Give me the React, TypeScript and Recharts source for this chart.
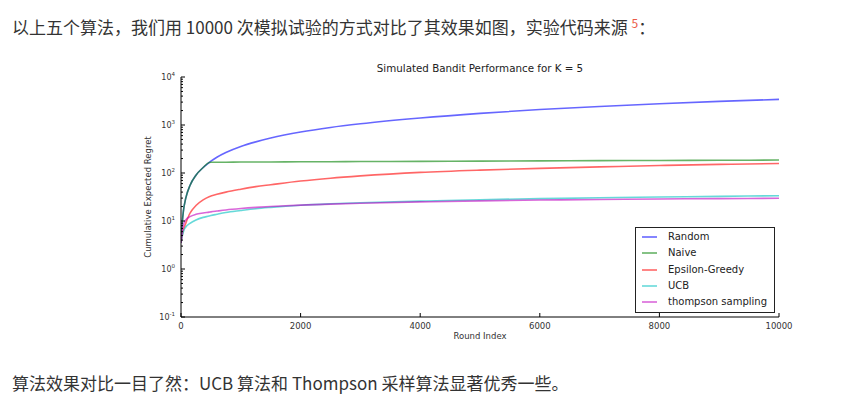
import { LineChart, Line, XAxis, YAxis, Legend } from "recharts";

const rounds = [0, 20, 40, 80, 150, 250, 370, 470, 500, 600, 750, 1000, 1250, 1500, 2000, 2500, 3000, 4000, 5000, 6000, 7000, 8000, 9000, 10000];
const randomRegret = [4, 9, 16, 30, 55, 90, 130, 165, 176, 213, 267, 357, 445, 535, 715, 890, 1060, 1400, 1750, 2100, 2430, 2770, 3100, 3420];
const naiveRegret = [4, 9, 16, 30, 55, 90, 130, 165, 167, 167.5, 168, 169, 169.5, 170, 171, 172, 173, 175, 177, 179, 181, 182, 184, 186];
const epsilonRegret = [3.5, 5, 6.5, 9, 14.5, 21, 27.5, 32, 33, 36, 40, 46, 52, 57, 68, 78, 87, 103, 115, 125, 134, 143, 151, 158];
const ucbRegret = [3.5, 4.8, 6, 7.5, 8.9, 10.5, 11.9, 12.7, 13, 13.8, 15, 16.5, 18, 19.2, 21.3, 22.8, 24, 26, 27.8, 29.2, 30.5, 31.6, 32.6, 33.6];
const thompsonRegret = [3.5, 6, 8.3, 10.5, 12.3, 13.8, 14.7, 15.3, 15.5, 16.1, 17, 18.2, 19.2, 20, 21.4, 22.5, 23.5, 25, 26.3, 27.3, 28.1, 28.8, 29.3, 29.7];

const xTicks = [0, 2000, 4000, 6000, 8000, 10000];
const yTicks = [0.1, 1, 10, 100, 1000, 10000];
const minorSteps = [2, 3, 4, 5, 6, 7, 8, 9];
const yAllTicks = yTicks.flatMap((d, i) =>
  i < yTicks.length - 1 ? [d, ...minorSteps.map((m) => Number((d * m).toPrecision(2)))] : [d]
);

const series = [
  { key: "random", name: "Random", color: "#0000ff" },
  { key: "naive", name: "Naive", color: "#008000" },
  { key: "epsilon", name: "Epsilon-Greedy", color: "#ff0000" },
  { key: "ucb", name: "UCB", color: "#00bfbf" },
  { key: "thompson", name: "thompson sampling", color: "#bf00bf" },
];

const data = rounds.map((r, i) => ({
  round: r,
  random: randomRegret[i],
  naive: naiveRegret[i],
  epsilon: epsilonRegret[i],
  ucb: ucbRegret[i],
  thompson: thompsonRegret[i],
}));

const mplFont = '"DejaVu Sans", sans-serif';
const cjkFont = '"Noto Sans CJK SC", sans-serif';

const isMajor = (v: number) => Math.abs(Math.log10(v) - Math.round(Math.log10(v))) < 1e-6;

function YTick({ x, y, payload, side }: any) {
  const v = payload.value;
  const major = isMajor(v);
  const len = major ? 4 : 2;
  const dir = side === "left" ? 1 : -1;
  return (
    <g>
      <line x1={x} x2={x + dir * len} y1={y} y2={y} stroke="#000" strokeWidth={1} />
      {side === "left" && major && (
        <text x={x - 6} y={y + 3} textAnchor="end" fontSize={8} fill="#333" fontFamily={mplFont}>
          10
          <tspan dy={-4} fontSize={5.5}>
            {Math.round(Math.log10(v))}
          </tspan>
        </text>
      )}
    </g>
  );
}

function XTick({ x, y, payload, side }: any) {
  const bottom = side === "bottom";
  return (
    <g>
      <line x1={x} x2={x} y1={y} y2={bottom ? y - 4 : y + 4} stroke="#000" strokeWidth={1} />
      {bottom && (
        <text x={x} y={y + 12} textAnchor="middle" fontSize={8.5} fill="#333" fontFamily={mplFont}>
          {payload.value}
        </text>
      )}
    </g>
  );
}

function LegendBox({ payload }: any) {
  const order = series.map((s) => s.name);
  const items = [...(payload || [])].sort((a: any, b: any) => order.indexOf(a.value) - order.indexOf(b.value));
  return (
    <div
      style={{
        width: 140,
        height: 86,
        boxSizing: "border-box",
        border: "1px solid #222",
        background: "#fff",
        paddingTop: 1,
      }}
    >
      {items.map((p: any) => (
        <div key={p.value} style={{ display: "flex", alignItems: "center", height: 16.3 }}>
          <svg width={22} height={4} style={{ marginLeft: 6 }}>
            <line x1={0} x2={15} y1={2} y2={2} stroke={p.color} strokeOpacity={0.6} strokeWidth={1.6} />
          </svg>
          <span style={{ marginLeft: 4, fontSize: 10, fontFamily: mplFont, color: "#222", lineHeight: "12px" }}>
            {p.value}
          </span>
        </div>
      ))}
    </div>
  );
}

export default function App() {
  return (
    <div style={{ position: "relative", width: 861, height: 405, background: "#fff", overflow: "hidden" }}>
      <style>{"body{margin:0}"}</style>
      <div
        style={{
          position: "absolute",
          left: 12,
          top: 17,
          fontSize: 17,
          lineHeight: "20px",
          fontFamily: cjkFont,
          color: "#333",
          whiteSpace: "nowrap",
        }}
      >
        以上五个算法，我们用 10000 次模拟试验的方式对比了其效果如图，实验代码来源{" "}
        <span style={{ color: "#eb5a46", fontSize: 12, position: "relative", top: -6 }}>5</span>：
      </div>

      <div style={{ position: "absolute", left: 0, top: 0 }}>
        <LineChart width={861} height={405} data={data} margin={{ top: 77, right: 82, bottom: 68, left: 141 }}>
          <XAxis
            dataKey="round"
            type="number"
            domain={[0, 10000]}
            allowDataOverflow
            ticks={xTicks}
            interval={0}
            height={20}
            tickSize={0}
            tickMargin={0}
            tickLine={false}
            axisLine={{ stroke: "#000" }}
            tick={(p: any) => <XTick {...p} side="bottom" />}
          />
          <XAxis
            xAxisId="top"
            orientation="top"
            dataKey="round"
            type="number"
            domain={[0, 10000]}
            allowDataOverflow
            ticks={xTicks}
            interval={0}
            height={0}
            tickSize={0}
            tickMargin={0}
            tickLine={false}
            axisLine={{ stroke: "#000" }}
            tick={(p: any) => <XTick {...p} side="top" />}
          />
          <YAxis
            type="number"
            scale="log"
            domain={[0.1, 10000]}
            allowDataOverflow
            ticks={yAllTicks}
            interval={0}
            width={40}
            tickSize={0}
            tickMargin={0}
            tickLine={false}
            axisLine={{ stroke: "#000" }}
            tick={(p: any) => <YTick {...p} side="left" />}
          />
          <YAxis
            yAxisId="right"
            orientation="right"
            type="number"
            scale="log"
            domain={[0.1, 10000]}
            allowDataOverflow
            ticks={yAllTicks}
            interval={0}
            width={0}
            tickSize={0}
            tickMargin={0}
            tickLine={false}
            axisLine={{ stroke: "#000" }}
            tick={(p: any) => <YTick {...p} side="right" />}
          />
          {series.map((s) => (
            <Line
              key={s.key}
              dataKey={s.key}
              name={s.name}
              type="monotone"
              stroke={s.color}
              strokeOpacity={0.6}
              strokeWidth={1.6}
              dot={false}
              activeDot={false}
              isAnimationActive={false}
            />
          ))}
          <Legend
            layout="vertical"
            align="center"
            verticalAlign="middle"
            content={(p: any) => <LegendBox {...p} />}
            wrapperStyle={{ left: 635, top: 227, width: 140, height: 86 }}
          />
        </LineChart>
      </div>

      <div
        style={{
          position: "absolute",
          left: 480,
          top: 62,
          transform: "translateX(-50%)",
          fontSize: 10.3,
          lineHeight: "12px",
          fontFamily: mplFont,
          color: "#222",
          whiteSpace: "nowrap",
        }}
      >
        Simulated Bandit Performance for K = 5
      </div>
      <div
        style={{
          position: "absolute",
          left: 148,
          top: 197,
          transform: "translate(-50%, -50%) rotate(-90deg)",
          fontSize: 8.5,
          lineHeight: "10px",
          fontFamily: mplFont,
          color: "#333",
          whiteSpace: "nowrap",
        }}
      >
        Cumulative Expected Regret
      </div>
      <div
        style={{
          position: "absolute",
          left: 480,
          top: 331,
          transform: "translateX(-50%)",
          fontSize: 8.5,
          lineHeight: "10px",
          fontFamily: mplFont,
          color: "#333",
          whiteSpace: "nowrap",
        }}
      >
        Round Index
      </div>

      <div
        style={{
          position: "absolute",
          left: 12,
          top: 373,
          fontSize: 17,
          lineHeight: "20px",
          fontFamily: cjkFont,
          color: "#333",
          whiteSpace: "nowrap",
        }}
      >
        算法效果对比一目了然：UCB 算法和 Thompson 采样算法显著优秀一些。
      </div>
    </div>
  );
}
